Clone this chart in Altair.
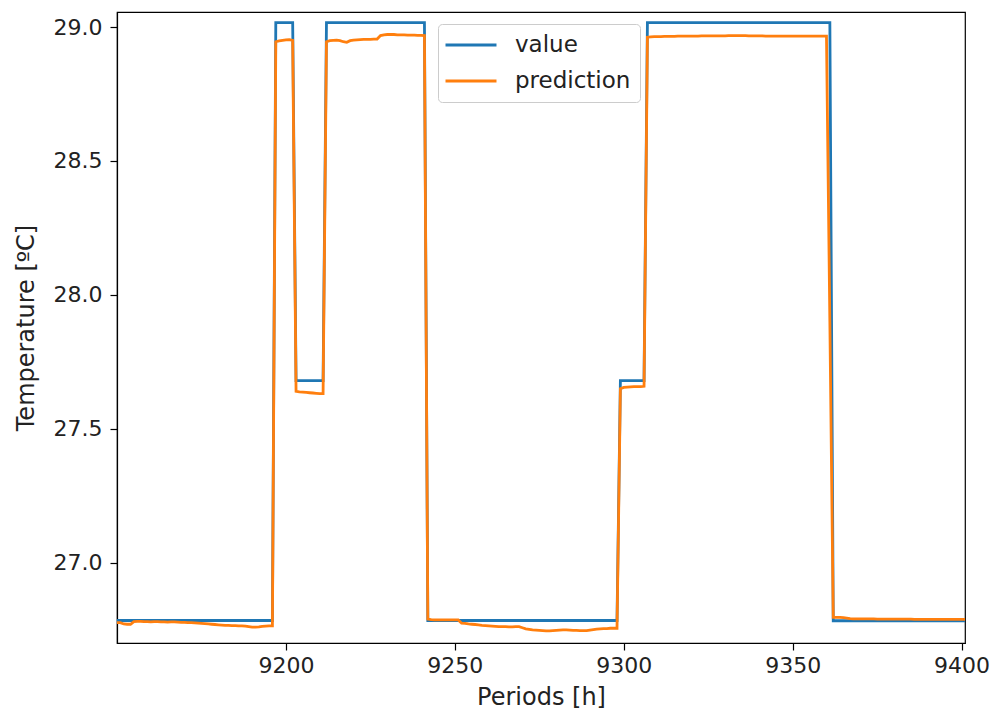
import altair as alt
import pandas as pd

# Hourly periods shown on the x axis
HOUR_START = 9150
HOUR_END = 9401

# Measured temperature: runs of constant level (first hour, last hour, level in ºC)
value_runs = [
    (9150, 9196, 26.785),
    (9197, 9202, 29.016),
    (9203, 9211, 27.680),
    (9212, 9241, 29.016),
    (9242, 9298, 26.785),
    (9299, 9306, 27.680),
    (9307, 9361, 29.016),
    (9362, 9401, 26.784),
]

# Model prediction, one value per hour starting at HOUR_START (rows of 10 hours)
prediction = [
    26.777, 26.777, 26.772, 26.771, 26.771, 26.781, 26.782, 26.782, 26.781, 26.781,  # 9150
    26.780, 26.781, 26.781, 26.780, 26.780, 26.779, 26.780, 26.780, 26.779, 26.778,  # 9160
    26.778, 26.777, 26.777, 26.776, 26.775, 26.774, 26.773, 26.772, 26.771, 26.770,  # 9170
    26.769, 26.768, 26.767, 26.767, 26.766, 26.766, 26.765, 26.765, 26.764, 26.762,  # 9180
    26.760, 26.760, 26.761, 26.763, 26.764, 26.765, 26.765, 28.945, 28.948, 28.950,  # 9190
    28.952, 28.953, 28.950, 27.640, 27.638, 27.637, 27.636, 27.635, 27.634, 27.633,  # 9200
    27.632, 27.632, 28.945, 28.949, 28.950, 28.951, 28.949, 28.945, 28.943, 28.949,  # 9210
    28.951, 28.952, 28.953, 28.954, 28.954, 28.954, 28.955, 28.955, 28.968, 28.971,  # 9220
    28.972, 28.972, 28.972, 28.971, 28.971, 28.971, 28.970, 28.970, 28.970, 28.969,  # 9230
    28.969, 28.968, 26.790, 26.788, 26.787, 26.787, 26.787, 26.787, 26.787, 26.787,  # 9240
    26.787, 26.787, 26.775, 26.774, 26.772, 26.771, 26.770, 26.769, 26.767, 26.766,  # 9250
    26.765, 26.764, 26.763, 26.762, 26.762, 26.762, 26.761, 26.761, 26.762, 26.762,  # 9260
    26.758, 26.754, 26.752, 26.750, 26.749, 26.748, 26.747, 26.746, 26.746, 26.747,  # 9270
    26.748, 26.749, 26.750, 26.750, 26.749, 26.748, 26.748, 26.747, 26.747, 26.747,  # 9280
    26.749, 26.751, 26.753, 26.754, 26.755, 26.755, 26.756, 26.756, 26.756, 27.650,  # 9290
    27.655, 27.656, 27.657, 27.658, 27.658, 27.658, 27.659, 28.962, 28.963, 28.964,  # 9300
    28.964, 28.964, 28.965, 28.965, 28.965, 28.965, 28.966, 28.966, 28.966, 28.966,  # 9310
    28.966, 28.966, 28.966, 28.967, 28.967, 28.967, 28.967, 28.967, 28.967, 28.967,  # 9320
    28.967, 28.968, 28.968, 28.968, 28.968, 28.968, 28.968, 28.967, 28.967, 28.967,  # 9330
    28.967, 28.967, 28.966, 28.966, 28.966, 28.966, 28.966, 28.966, 28.966, 28.966,  # 9340
    28.966, 28.966, 28.966, 28.966, 28.966, 28.966, 28.966, 28.966, 28.966, 28.966,  # 9350
    28.966, 27.900, 26.797, 26.797, 26.797, 26.796, 26.794, 26.792, 26.791, 26.791,  # 9360
    26.791, 26.791, 26.791, 26.791, 26.791, 26.790, 26.790, 26.790, 26.790, 26.790,  # 9370
    26.790, 26.790, 26.790, 26.790, 26.790, 26.790, 26.789, 26.789, 26.789, 26.789,  # 9380
    26.789, 26.789, 26.789, 26.789, 26.789, 26.789, 26.789, 26.789, 26.789, 26.789,  # 9390
    26.789, 26.789,                                                                  # 9400
]

series_names = ["value", "prediction"]
series_colors = ["#1f77b4", "#ff7f0e"]
x_ticks = [9200, 9250, 9300, 9350, 9400]
y_ticks = [27.0, 27.5, 28.0, 28.5, 29.0]

# Expand the runs into one row per hour
value_rows = []
for first, last, level in value_runs:
    for h in range(first, last + 1):
        value_rows.append({"hour": h, "temp": level, "series": "value"})
pred_rows = [
    {"hour": HOUR_START + i, "temp": t, "series": "prediction"}
    for i, t in enumerate(prediction)
]
df = pd.DataFrame(value_rows + pred_rows)

FONT = "DejaVu Sans"
TICK_FS = 22
TITLE_FS = 24
LEGEND_FS = 23

x_enc = alt.X(
    "hour:Q",
    scale=alt.Scale(domain=[HOUR_START, HOUR_END], nice=False, zero=False),
    axis=alt.Axis(title="Periods [h]", values=x_ticks, format="d", grid=False),
)
y_enc = alt.Y(
    "temp:Q",
    scale=alt.Scale(domain=[26.701, 29.056], nice=False, zero=False),
    axis=alt.Axis(title="Temperature [ºC]", values=y_ticks, format=".1f", grid=False),
)
# A wide horizontal dash as the legend key, kept short in the unit box so rows stay compact
color_enc = alt.Color(
    "series:N",
    scale=alt.Scale(domain=series_names, range=series_colors),
    legend=alt.Legend(
        title=None,
        orient="none",
        legendX=321,
        legendY=12,
        symbolType="M-2.5,0H2.5",
        symbolSize=416,
        symbolStrokeWidth=2.8,
        symbolOffset=12,
        labelFontSize=LEGEND_FS,
        labelFont=FONT,
        labelColor="#222222",
        labelOffset=32,
        rowPadding=12,
        padding=9,
        strokeColor="#cccccc",
        fillColor="white",
        cornerRadius=4,
    ),
)

lines = [
    alt.Chart(df)
    .transform_filter(alt.datum.series == name)
    .mark_line(strokeWidth=2.8, clip=True)
    .encode(x=x_enc, y=y_enc, color=color_enc)
    for name in series_names
]

chart = (
    alt.layer(*lines)
    .properties(
        width=848,
        height=631,
        padding={"left": 117, "top": 12, "right": 26, "bottom": 72},
        autosize=alt.AutoSizeParams(type="none"),
    )
    .configure_view(stroke="black", strokeWidth=1.2)
    .configure_axis(
        labelFont=FONT,
        titleFont=FONT,
        labelFontSize=TICK_FS,
        titleFontSize=TITLE_FS,
        titleFontWeight="normal",
        labelColor="#222222",
        titleColor="#222222",
        domainColor="black",
        domainWidth=1.2,
        tickColor="black",
        tickWidth=1.2,
        tickSize=7,
    )
    .configure_axisX(labelPadding=5, titlePadding=9)
    .configure_axisY(labelPadding=8, titlePadding=15)
)

chart.save("out.html", embed_options={"renderer": "svg", "actions": False})
